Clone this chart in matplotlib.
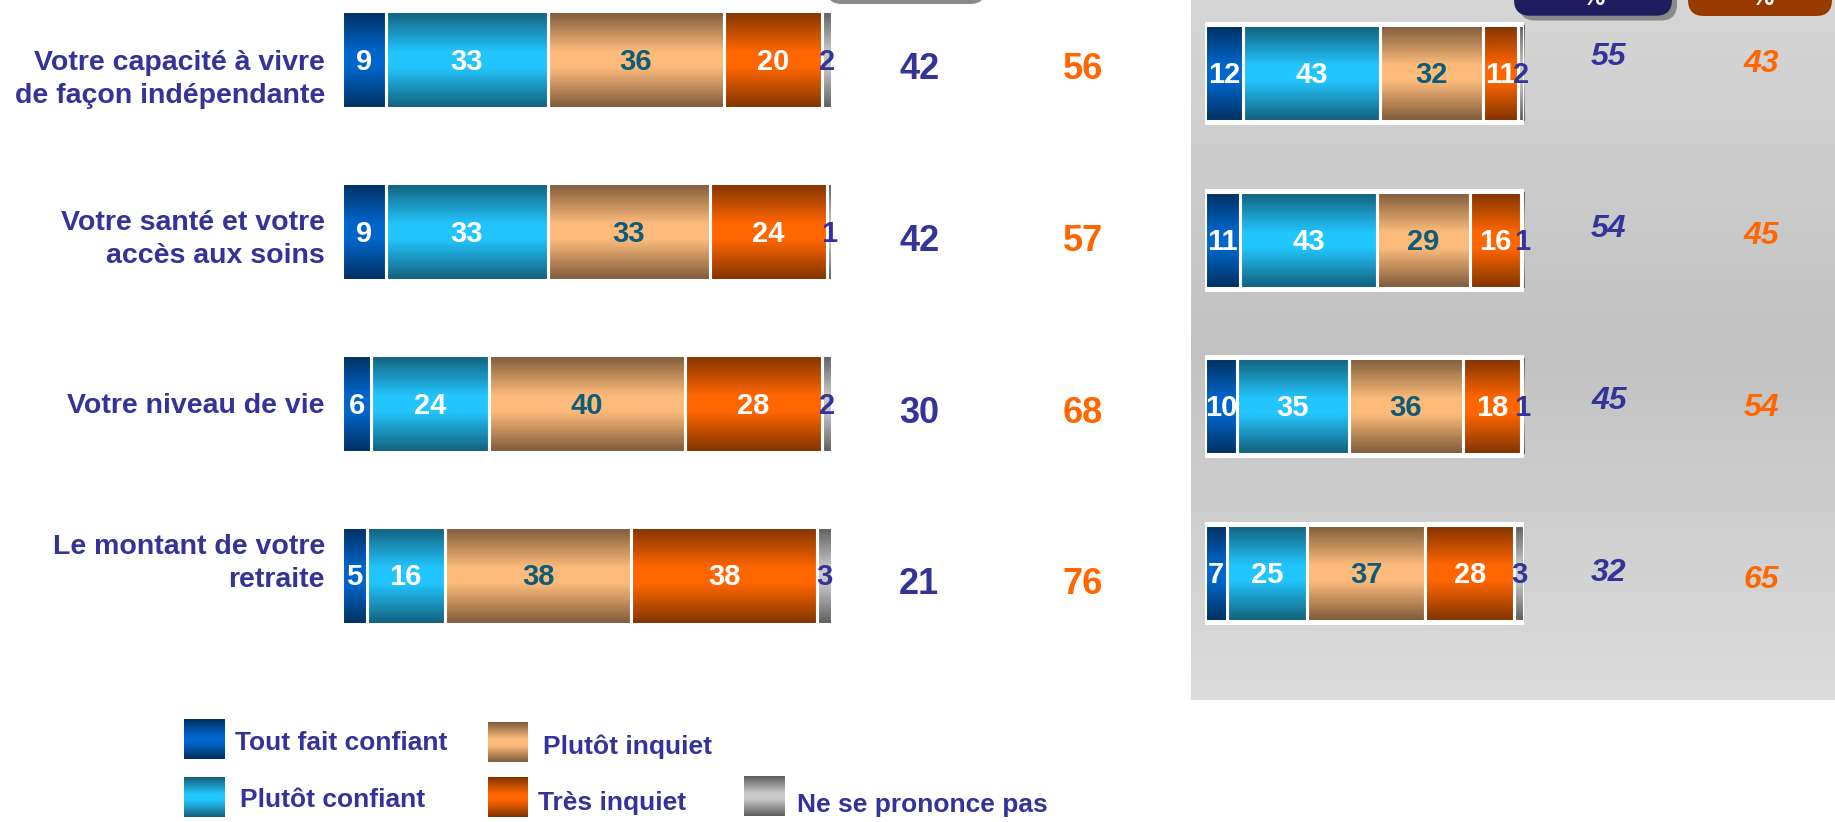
import numpy as np
import matplotlib.pyplot as plt
import matplotlib.transforms as mtransforms
from matplotlib.colors import LinearSegmentedColormap
from matplotlib.patches import FancyBboxPatch

plt.rcParams['font.family'] = ['Liberation Sans', 'DejaVu Sans']

# Données (vague actuelle)
items = ['Votre capacité à vivre\nde façon indépendante',
         'Votre santé et votre\naccès aux soins',
         'Votre niveau de vie',
         'Le montant de votre\nretraite']
series = ['Tout fait confiant', 'Plutôt confiant', 'Plutôt inquiet',
          'Très inquiet', 'Ne se prononce pas']
tout_confiant = [9, 9, 6, 5]
plutot_confiant = [33, 33, 24, 16]
plutot_inquiet = [36, 33, 40, 38]
tres_inquiet = [20, 24, 28, 38]
nsp = [2, 1, 2, 3]
total_confiant = [42, 42, 30, 21]
total_inquiet = [56, 57, 68, 76]

# Rappel (panneau gris de droite)
tout_confiant_r = [12, 11, 10, 7]
plutot_confiant_r = [43, 43, 35, 25]
plutot_inquiet_r = [32, 29, 36, 37]
tres_inquiet_r = [11, 16, 18, 28]
nsp_r = [2, 1, 1, 3]
total_confiant_r = [55, 54, 45, 32]
total_inquiet_r = [43, 45, 54, 65]

BLEU = '#333399'
ORANGE = '#ff6600'
TEAL = '#0e5c78'

# couleurs des dégradés (bord, centre)
grad_colors = [('#00305f', '#0066cc'),
               ('#135f7a', '#22c5fd'),
               ('#7d5a3a', '#fdbb7b'),
               ('#7f3300', '#ff6600'),
               ('#5e5e5e', '#c8c8c8')]
cmaps = [LinearSegmentedColormap.from_list('g%d' % i, [(0, e), (0.42, c), (0.58, c), (1, e)])
         for i, (e, c) in enumerate(grad_colors)]
label_colors = ['white', 'white', TEAL, 'white', BLEU]

W, H = 1835, 822
fig = plt.figure(figsize=(W / 100, H / 100), dpi=100)
fig.patch.set_facecolor('white')

grad = np.linspace(0, 1, 256).reshape(-1, 1)


def fill_gradient(ax, patch, cmap, z=2):
    x, y = patch.get_x(), patch.get_y()
    w, h = patch.get_width(), patch.get_height()
    im = ax.imshow(grad, cmap=cmap, aspect='auto', interpolation='bilinear',
                   extent=(x, x + w, y + h, y), zorder=z)
    im.set_clip_path(patch)


# fond + décor (coordonnées en pixels)
ax_bg = fig.add_axes([0, 0, 1, 1])
bg_cmap = LinearSegmentedColormap.from_list('bg', ['#d6d6d6', '#c2c2c2', '#dcdcdc'])
ax_bg.imshow(grad, cmap=bg_cmap, aspect='auto', extent=(1191, W, 700, 0), zorder=0)

# en-têtes coupés en haut
box_gray = FancyBboxPatch((826, -40), 160, 44, boxstyle='round,pad=0,rounding_size=16',
                          fc='#8a8a8a', ec='none', zorder=1)
ax_bg.add_patch(box_gray)
shadow = FancyBboxPatch((1519, -40), 158, 60.5, boxstyle='round,pad=0,rounding_size=16',
                        fc='#8a8a8a', ec='none', zorder=1)
ax_bg.add_patch(shadow)
box_navy = FancyBboxPatch((1514, -40), 158, 55.7, boxstyle='round,pad=0,rounding_size=16',
                          fc='#1f1d5f', ec='none', zorder=2)
ax_bg.add_patch(box_navy)
box_or = FancyBboxPatch((1688, -40), 144, 56, boxstyle='round,pad=0,rounding_size=16',
                        fc='#983a00', ec='none', zorder=2)
ax_bg.add_patch(box_or)
ax_bg.text(1593, 5, '%', color='white', fontsize=18, fontweight='bold', ha='center', va='baseline', zorder=3)
ax_bg.text(1762, 5, '%', color='white', fontsize=18, fontweight='bold', ha='center', va='baseline', zorder=3)

# légende
swatches = [(184, 719), (184, 777), (488, 722), (488, 777), (744, 776)]
text_pos = [(235, 743), (240, 800), (543, 747), (538, 803), (797, 805)]
for k, name in enumerate(series):
    sx, sy = swatches[k]
    ax_bg.imshow(grad, cmap=cmaps[k], aspect='auto', extent=(sx, sx + 40, sy + 40, sy), zorder=2)
    tx, ty = text_pos[k]
    ax_bg.text(tx, ty, name, color=BLEU, fontsize=19, fontweight='bold', ha='left', va='center')

ax_bg.set_xlim(0, W)
ax_bg.set_ylim(H, 0)
ax_bg.axis('off')

# barres de gauche
ax_l = fig.add_axes([342 / W, 0, 490 / W, 1])
ax_l.set_facecolor('none')
# barres de droite
ax_r = fig.add_axes([1205 / W, 0, 319 / W, 1])
ax_r.set_facecolor('none')


def stacked(ax, rows, height, lw):
    y = np.arange(len(rows[0]))
    left = np.zeros(len(y))
    for k, vals in enumerate(rows):
        bars = ax.barh(y, vals, left=left, height=height, color='none',
                       edgecolor='white', linewidth=lw, zorder=3)
        for b, v in zip(bars, vals):
            fill_gradient(ax, b, cmaps[k])
            ax.text(b.get_x() + b.get_width() / 2, b.get_y() + b.get_height() / 2 + 0.012, str(v),
                    ha='center', va='center', color=label_colors[k], fontsize=21,
                    fontweight='bold', zorder=5, clip_on=False)
        left = left + np.array(vals)
    return y, left


rows_l = [tout_confiant, plutot_confiant, plutot_inquiet, tres_inquiet, nsp]
y_l, tot_l = stacked(ax_l, rows_l, 97 / 171.8, 2.2)

rows_r = [tout_confiant_r, plutot_confiant_r, plutot_inquiet_r, tres_inquiet_r, nsp_r]
y_r = np.arange(len(items))
tot_r = np.sum(rows_r, axis=0)
ax_r.barh(y_r, tot_r, height=96 / 166.7, color='white', edgecolor='white',
          linewidth=5, joinstyle='round', zorder=1)
stacked(ax_r, rows_r, 96 / 166.7, 2.2)

# libellés
label_dy = [0.115, 0.045, 0.014, -0.07]
for i, lab in enumerate(items):
    ax_l.text(-3.5, i + label_dy[i], lab, ha='right', va='center', color=BLEU,
              fontsize=20.5, fontweight='bold', linespacing=1.33, clip_on=False)
    ax_l.text(117.8, i + 0.055, str(total_confiant[i]), ha='center', va='center', color=BLEU,
              fontsize=26, fontweight='bold', clip_on=False)
    ax_l.text(151.2, i + 0.055, str(total_inquiet[i]), ha='center', va='center', color=ORANGE,
              fontsize=26, fontweight='bold', clip_on=False)

trans = mtransforms.blended_transform_factory(ax_r.transData, ax_l.transData)
for i in range(len(items)):
    ax_r.text(126.6, i - 0.015, str(total_confiant_r[i]), transform=trans, ha='center', va='center',
              color=BLEU, fontsize=23, fontweight='bold', style='italic', clip_on=False)
    ax_r.text(174.3, i + 0.025, str(total_inquiet_r[i]), transform=trans, ha='center', va='center',
              color=ORANGE, fontsize=23, fontweight='bold', style='italic', clip_on=False)

ax_l.set_xlim(0, 100)
ax_l.set_ylim((H - 60) / 171.8, -60 / 171.8)
ax_l.axis('off')
ax_r.set_xlim(0, 100)
ax_r.set_ylim((H - 73) / 166.7, -73 / 166.7)
ax_r.axis('off')

fig.savefig('out.png', dpi=100)
